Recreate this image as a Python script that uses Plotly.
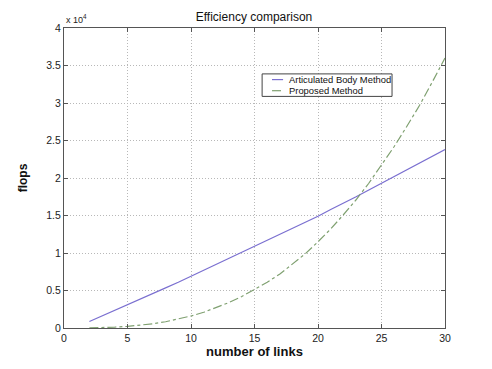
import plotly.graph_objects as go

links = list(range(2, 31))
# flops in units of 10^4
abm = [0.087, 0.16, 0.235, 0.31, 0.385, 0.46, 0.535, 0.61, 0.69, 0.765, 0.84, 0.92, 1.0, 1.08,
       1.16, 1.24, 1.32, 1.41, 1.49, 1.58, 1.66, 1.75, 1.84, 1.93, 2.02, 2.11, 2.2, 2.29, 2.38]
proposed = [0.002, 0.005, 0.012, 0.022, 0.037, 0.057, 0.083, 0.117, 0.16, 0.21, 0.27, 0.34, 0.42, 0.51,
            0.61, 0.72, 0.85, 0.99, 1.15, 1.32, 1.51, 1.71, 1.93, 2.17, 2.42, 2.69, 2.97, 3.28, 3.6]
series_names = ["Articulated Body Method", "Proposed Method"]
x_ticks = [0, 5, 10, 15, 20, 25, 30]
y_ticks = [0, 0.5, 1, 1.5, 2, 2.5, 3, 3.5, 4]
y_ticklabels = ["0", "0.5", "1", "1.5", "2", "2.5", "3", "3.5", "4"]

font = "Liberation Sans, Arial, sans-serif"
colors = ["#7a6fd0", "#7fa070"]
dashes = ["solid", "dashdot"]

fig = go.Figure()
fig.add_trace(go.Scatter(x=links, y=abm, mode="lines", name=series_names[0],
                         line=dict(color=colors[0], width=1.2)))
fig.add_trace(go.Scatter(x=links, y=proposed, mode="lines", name=series_names[1],
                         line=dict(color=colors[1], width=1.2, dash=dashes[1])))

axis_common = dict(showline=True, linecolor="#555555", linewidth=1, mirror="ticks",
                   ticks="inside", ticklen=4, tickcolor="#555555", automargin=False,
                   showgrid=True, gridcolor="#b8b8b8", griddash="1px,2px", gridwidth=1,
                   zeroline=False, tickfont=dict(family=font, size=10.5, color="#222222"))
fig.update_xaxes(range=[0, 30], tickvals=x_ticks, **axis_common,
                 title=dict(text="<b>number of links</b>", font=dict(family=font, size=13, color="#111111"), standoff=4))
fig.update_yaxes(range=[0, 4], tickvals=y_ticks, ticktext=y_ticklabels, **axis_common,
                 title=dict(text="<b>flops</b>", font=dict(family=font, size=12, color="#111111"), standoff=16))

W, H = 484, 361
fig.update_layout(
    width=W, height=H,
    margin=dict(l=56, r=47, t=20, b=41, autoexpand=False),
    paper_bgcolor="white", plot_bgcolor="white",
    title=dict(text="Efficiency comparison", x=(254 - 8) / W, xanchor="center", y=1 - 9 / H, yref="container",
               yanchor="middle", automargin=False,
               font=dict(family=font, size=12, color="#111111")),
    showlegend=False,
)

# legend box (manual, compact like the reference)
lx0, lx1, ly0, ly1 = 0.52, 0.861, 0.772, 0.847
fig.add_shape(type="rect", xref="paper", yref="paper", x0=lx0, x1=lx1, y0=ly0, y1=ly1,
              line=dict(color="#444444", width=1), fillcolor="white", layer="above")
rows = [0.828, 0.791]
for name, col, dsh, yy in zip(series_names, colors, dashes, rows):
    fig.add_shape(type="line", xref="paper", yref="paper", x0=0.546, x1=0.575, y0=yy, y1=yy,
                  line=dict(color=col, width=1.2, dash=dsh), layer="above")
    fig.add_annotation(text=name, xref="paper", yref="paper", x=0.586, y=yy,
                       xanchor="left", yanchor="middle", showarrow=False,
                       font=dict(family=font, size=9.4, color="#111111"))

fig.add_annotation(text="x 10<sup>4</sup>", xref="paper", yref="paper", x=0.0, y=1.0,
                   xanchor="left", yanchor="bottom", showarrow=False, yshift=1,
                   font=dict(family=font, size=9, color="#222222"))
fig.write_html("out.html")
